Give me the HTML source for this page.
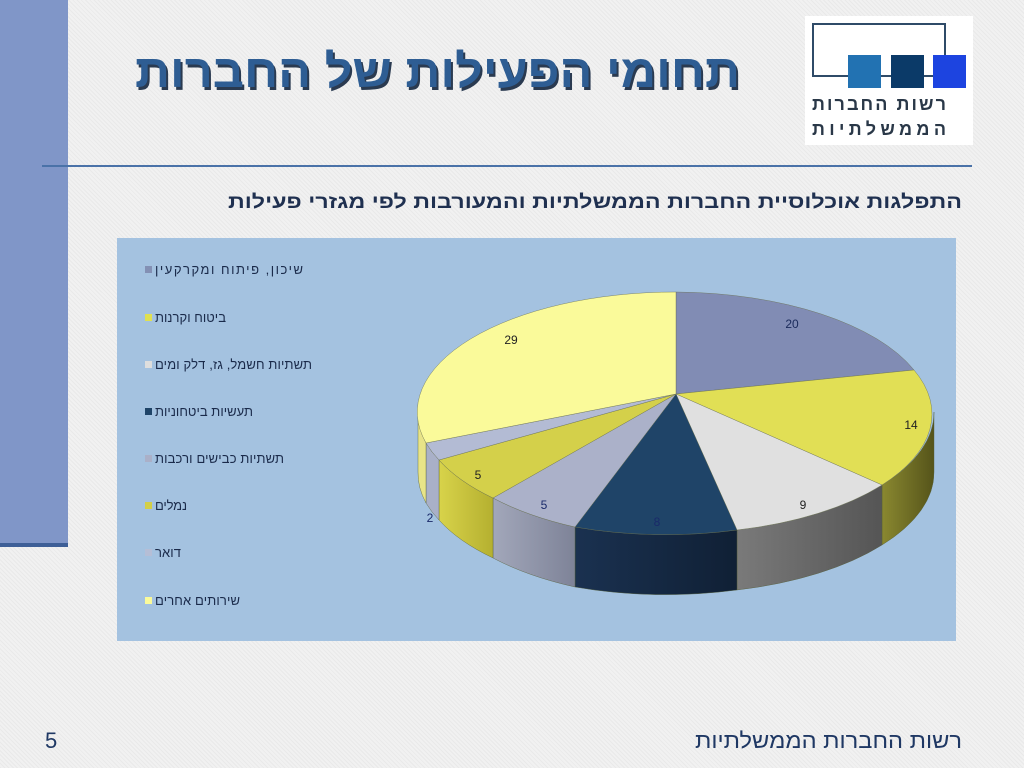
<!DOCTYPE html>
<html><head><meta charset="utf-8"><style>
html,body{margin:0;padding:0}
body{width:1024px;height:768px;overflow:hidden;background:#eeeeee;background-image:repeating-linear-gradient(45deg,#e9e9e9 0 1px,#f1f1f1 1px 3px);position:relative;font-family:"Liberation Sans","Noto Sans CJK SC",sans-serif}
svg{position:absolute;left:0;top:0}
</style></head><body>
<svg width="1024" height="768" viewBox="0 0 1024 768" font-family="Liberation Sans, DejaVu Sans, sans-serif">
<defs>
<linearGradient id="g14" x1="0" x2="1"><stop offset="0" stop-color="#8a8830"/><stop offset="1" stop-color="#55541a"/></linearGradient>
<linearGradient id="g9" x1="0" x2="1"><stop offset="0" stop-color="#7a7a7a"/><stop offset="1" stop-color="#555"/></linearGradient>
<linearGradient id="g8" x1="0" x2="1"><stop offset="0" stop-color="#1a3150"/><stop offset="1" stop-color="#102035"/></linearGradient>
<linearGradient id="g5a" x1="0" x2="1"><stop offset="0" stop-color="#a2a7ba"/><stop offset="1" stop-color="#7e8398"/></linearGradient>
<linearGradient id="g5b" x1="0" x2="1"><stop offset="0" stop-color="#d8d34a"/><stop offset="1" stop-color="#b5b030"/></linearGradient>
</defs>
<rect x="0" y="0" width="68" height="545" fill="#8096c8"/>
<rect x="0" y="543" width="68" height="4" fill="#3e5f97"/>
<line x1="42" y1="166" x2="972" y2="166" stroke="#4a72a8" stroke-width="2"/>
<text x="137" y="90" textLength="605" lengthAdjust="spacingAndGlyphs" font-size="46" font-weight="bold" fill="#2a3a50">תחומי הפעילות של החברות</text>
<text x="135" y="87" textLength="605" lengthAdjust="spacingAndGlyphs" font-size="46" font-weight="bold" fill="#2e5d93">תחומי הפעילות של החברות</text>
<rect x="805" y="16" width="168" height="129" fill="#fff"/>
<rect x="813" y="24" width="132" height="52" fill="none" stroke="#2f4b68" stroke-width="2"/>
<rect x="848" y="55" width="33" height="33" fill="#2272b2"/>
<rect x="891" y="55" width="33" height="33" fill="#0b3a68"/>
<rect x="933" y="55" width="33" height="33" fill="#1d44e0"/>
<text x="812" y="110" textLength="134" lengthAdjust="spacing" font-size="18" font-weight="bold" fill="#2a3848">רשות החברות</text>
<text x="812" y="135" textLength="134" lengthAdjust="spacing" font-size="18" font-weight="bold" fill="#2a3848">הממשלתיות</text>
<text x="228" y="208" textLength="734" lengthAdjust="spacingAndGlyphs" font-size="19" font-weight="bold" fill="#1f3050">התפלגות אוכלוסיית החברות הממשלתיות והמעורבות לפי מגזרי פעילות</text>
<rect x="117" y="238" width="839" height="403" fill="#a4c2e0"/>
<g font-size="13" fill="#1a2a4a" text-anchor="start" lengthAdjust="spacingAndGlyphs">
<rect x="145" y="266" width="7" height="7" fill="#8390b4"/><text x="155" y="274" textLength="148">שיכון, פיתוח ומקרקעין</text>
<rect x="145" y="314" width="7" height="7" fill="#e0e050"/><text x="155" y="322" textLength="71">ביטוח וקרנות</text>
<rect x="145" y="361" width="7" height="7" fill="#dedede"/><text x="155" y="369" textLength="157">תשתיות חשמל, גז, דלק ומים</text>
<rect x="145" y="408" width="7" height="7" fill="#1f4468"/><text x="155" y="416" textLength="98">תעשיות ביטחוניות</text>
<rect x="145" y="455" width="7" height="7" fill="#aab0c8"/><text x="155" y="463" textLength="129">תשתיות כבישים ורכבות</text>
<rect x="145" y="502" width="7" height="7" fill="#d3cf48"/><text x="155" y="510" textLength="32">נמלים</text>
<rect x="145" y="549" width="7" height="7" fill="#b5bed6"/><text x="155" y="557" textLength="26">דואר</text>
<rect x="145" y="597" width="7" height="7" fill="#fafa9a"/><text x="155" y="605" textLength="85">שירותים אחרים</text>
</g>
<g stroke="#55603a" stroke-width="0.4">
<path d="M934 412 A258 120 0 0 1 882 485 L882 545 A258 120 0 0 0 934 472Z" fill="url(#g14)"/>
<path d="M882 485 A258 120 0 0 1 737 530 L737 590 A258 120 0 0 0 882 545Z" fill="url(#g9)"/>
<path d="M737 530 A258 120 0 0 1 575 527 L575 587 A258 120 0 0 0 737 590Z" fill="url(#g8)"/>
<path d="M575 527 A258 120 0 0 1 493 498 L493 558 A258 120 0 0 0 575 587Z" fill="url(#g5a)"/>
<path d="M493 498 A258 120 0 0 1 439 460 L439 520 A258 120 0 0 0 493 558Z" fill="url(#g5b)"/>
<path d="M439 460 A258 120 0 0 1 426 443 L426 503 A258 120 0 0 0 439 520Z" fill="#a9b0c8"/>
<path d="M426 443 A258 120 0 0 1 418 412 L418 472 A258 120 0 0 0 426 503Z" fill="#e8e488"/>
</g>
<g stroke="#6a7050" stroke-width="0.4">
<path d="M676 394 L676 292 A258 120 0 0 1 914 370Z" fill="#818cb4"/>
<path d="M676 394 L914 370 A258 120 0 0 1 882 485Z" fill="#e1df55"/>
<path d="M676 394 L882 485 A258 120 0 0 1 737 530Z" fill="#e0e0e0"/>
<path d="M676 394 L737 530 A258 120 0 0 1 575 527Z" fill="#1f4468"/>
<path d="M676 394 L575 527 A258 120 0 0 1 493 498Z" fill="#abb1c9"/>
<path d="M676 394 L493 498 A258 120 0 0 1 439 460Z" fill="#d4d04a"/>
<path d="M676 394 L439 460 A258 120 0 0 1 426 443Z" fill="#b3bbd4"/>
<path d="M676 394 L426 443 A258 120 0 0 1 676 292Z" fill="#fafa9a"/>
</g>
<g font-size="12" text-anchor="middle">
<text x="792" y="328" fill="#1a2a5a">20</text>
<text x="911" y="429" fill="#222">14</text>
<text x="803" y="509" fill="#222">9</text>
<text x="657" y="526" fill="#1a2a6a">8</text>
<text x="544" y="509" fill="#1a2a6a">5</text>
<text x="478" y="479" fill="#222">5</text>
<text x="430" y="522" fill="#1a2a6a">2</text>
<text x="511" y="344" fill="#222">29</text>
</g>
<text x="45" y="748" font-size="22" fill="#1f3864">5</text>
<text x="695" y="748" textLength="267" lengthAdjust="spacingAndGlyphs" font-size="22" fill="#1f3864">רשות החברות הממשלתיות</text>
</svg>
</body></html>
